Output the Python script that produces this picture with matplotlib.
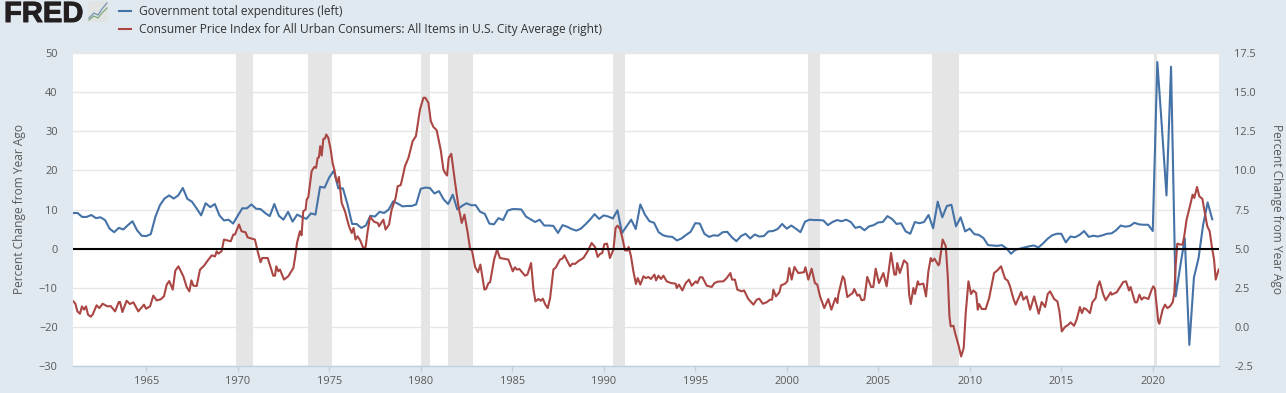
import numpy as np
import matplotlib
matplotlib.use("Agg")
import matplotlib.pyplot as plt
import matplotlib.patheffects as pe
from matplotlib.lines import Line2D
from matplotlib.patches import FancyBboxPatch

# ---------- data ----------
gov_label = "Government total expenditures (left)"
cpi_label = "Consumer Price Index for All Urban Consumers: All Items in U.S. City Average (right)"
y_label = "Percent Change from Year Ago"

# government expenditures, % change, quarterly from 1961 Q1
gov_start = 1961
gov_pct = [
 9.1,9.1,8.1,8.1,8.6,7.8,8.0,7.3,5.1,4.2,5.3,4.9,6.0,7.0,4.7,3.3,3.2,3.7,8.1,11.1,
 12.8,13.6,12.8,13.6,15.5,12.7,12.0,10.3,8.5,11.6,10.6,11.4,8.5,7.2,7.4,6.4,8.4,10.3,10.3,11.3,
 10.2,10.1,9.1,8.3,11.4,8.4,7.4,9.4,6.9,8.7,8.1,7.6,9.0,8.7,15.8,15.6,18.2,19.9,15.4,15.4,
 11.3,6.3,6.3,5.3,5.9,8.4,8.2,9.4,9.1,10.0,12.1,11.5,10.8,10.9,10.9,11.3,15.3,15.6,15.5,14.1,
 14.7,12.6,11.4,13.8,10.0,10.9,11.6,11.1,11.1,9.4,8.9,6.4,6.2,7.8,7.3,9.7,10.1,10.1,10.0,8.2,
 7.5,6.8,7.4,5.9,5.9,5.8,4.0,6.0,5.6,5.0,4.6,5.1,6.2,7.4,8.8,7.6,8.5,8.2,7.7,9.8,
 4.0,5.7,7.4,5.0,11.3,8.7,7.0,6.6,4.2,3.4,3.1,3.0,2.1,2.6,3.5,4.3,6.5,6.4,3.8,3.0,
 3.4,3.3,4.2,4.3,2.9,1.9,3.2,3.8,2.6,3.6,3.1,3.2,4.4,4.5,5.0,6.3,5.1,5.9,5.1,4.2,
 6.9,7.4,7.3,7.3,7.2,6.0,6.8,7.3,7.0,7.4,6.8,5.3,5.6,4.7,5.7,6.0,6.7,6.8,8.3,7.6,
 6.3,6.5,4.4,3.8,6.8,6.5,6.8,8.6,5.2,12.0,8.0,10.9,11.2,5.7,8.0,4.4,5.1,3.7,3.5,2.7,
 0.9,0.8,0.7,0.9,0.1,-1.3,-0.3,0.0,0.3,0.6,0.8,0.3,1.3,2.5,3.4,3.8,3.8,1.6,3.1,2.9,
 3.5,4.5,3.0,3.3,3.1,3.4,3.8,3.9,4.7,5.9,5.6,5.8,6.6,6.2,6.1,6.1,4.5,47.7,31.0,13.6,
 46.5,-12.2,-4.6,2.6,-24.6,-7.4,-2.5,6.0,11.8,7.5]

# consumer price index, % change: dates (decimal years) and values
cpi_year = [
 1961.02,1961.13,1961.24,1961.38,1961.49,1961.60,1961.71,1961.82,1961.97,1962.07,1962.29,1962.44,1962.62,1962.88,
 1963.06,1963.30,1963.50,1963.57,1963.70,1963.93,1964.11,1964.30,1964.57,1964.88,1964.99,1965.21,1965.39,1965.57,
 1965.79,1965.97,1966.12,1966.26,1966.45,1966.59,1966.76,1967.03,1967.21,1967.36,1967.47,1967.58,1967.76,1967.94,
 1968.16,1968.40,1968.58,1968.76,1968.85,1968.94,1969.12,1969.25,1969.43,1969.62,1969.76,1969.85,
 1970.07,1970.21,1970.43,1970.54,1970.94,1971.09,1971.25,1971.34,1971.64,1971.94,1972.04,1972.11,1972.22,1972.31,
 1972.53,1972.76,1973.04,1973.13,1973.24,1973.40,1973.49,1973.58,1973.71,1973.77,1973.86,1974.04,1974.19,1974.28,
 1974.37,1974.44,1974.51,1974.59,1974.68,1974.77,1974.84,1974.95,1975.08,1975.19,1975.28,1975.37,1975.46,1975.53,
 1975.68,1975.86,1976.08,1976.23,1976.33,1976.44,1976.55,1976.70,1976.86,1976.99,1977.10,1977.23,1977.46,1977.65,
 1977.72,1977.96,1978.08,1978.27,1978.41,1978.63,1978.74,1978.90,1978.98,1979.14,1979.33,1979.56,1979.74,1979.96,
 1980.15,1980.25,1980.42,1980.55,1980.69,1980.87,1981.09,1981.24,1981.33,1981.44,1981.53,1981.67,1981.88,1982.06,
 1982.24,1982.39,1982.57,1982.70,1982.80,1982.97,1983.13,1983.26,1983.48,1983.57,1983.70,1983.79,1984.01,1984.17,
 1984.33,1984.79,1985.03,1985.15,1985.25,1985.39,1985.70,1985.83,1986.03,1986.16,1986.27,1986.43,1986.56,1986.67,
 1986.81,1986.94,1987.07,1987.25,1987.39,1987.61,1987.74,1987.85,1988.16,1988.29,1988.43,1988.65,1988.89,1989.12,
 1989.34,1989.52,1989.67,1989.80,1989.92,1990.03,1990.18,1990.34,1990.53,1990.65,1990.76,1990.89,1991.02,1991.16,
 1991.29,1991.36,1991.49,1991.62,1991.76,1991.86,1992.00,1992.17,1992.31,1992.44,1992.58,1992.77,1992.86,1992.99,
 1993.13,1993.26,1993.44,1993.68,1993.93,1993.99,1994.11,1994.30,1994.48,1994.66,1994.81,1995.03,1995.12,1995.26,
 1995.39,1995.63,1995.90,1996.05,1996.23,1996.54,1996.72,1996.92,1997.01,1997.17,1997.30,1997.54,1997.67,1997.90,
 1998.18,1998.36,1998.50,1998.69,1998.90,1999.09,1999.20,1999.27,1999.41,1999.60,1999.69,1999.91,2000.03,2000.14,
 2000.27,2000.42,2000.63,2000.94,2001.02,2001.18,2001.36,2001.54,2001.67,2001.82,2002.05,2002.27,2002.44,2002.66,
 2002.77,2002.82,2003.06,2003.15,2003.31,2003.60,2003.69,2003.86,2003.97,2004.09,2004.24,2004.40,2004.61,2004.73,
 2004.86,2005.04,2005.28,2005.46,2005.70,2005.88,2005.97,2006.04,2006.18,2006.41,2006.59,2006.69,2006.78,2006.92,
 2007.01,2007.16,2007.23,2007.47,2007.61,2007.74,2007.87,2007.96,2008.07,2008.29,2008.34,2008.52,2008.69,2008.80,
 2008.89,2008.96,2009.11,2009.20,2009.38,2009.53,2009.67,2009.78,2009.93,2010.07,2010.20,2010.35,2010.44,2010.51,
 2010.66,2010.87,2011.06,2011.33,2011.51,2011.71,2011.93,2012.08,2012.20,2012.39,2012.51,2012.81,2012.93,2013.11,
 2013.30,2013.52,2013.77,2013.93,2014.12,2014.26,2014.39,2014.61,2014.79,2014.90,2015.03,2015.20,2015.39,2015.51,
 2015.70,2015.84,2016.02,2016.13,2016.24,2016.35,2016.57,2016.70,2016.88,2016.99,2017.10,2017.30,2017.43,2017.70,
 2017.75,2018.03,2018.26,2018.39,2018.54,2018.70,2018.79,2019.03,2019.14,2019.27,2019.39,2019.52,2019.76,2019.94,
 2020.03,2020.12,2020.30,2020.36,2020.54,2020.67,2020.80,2020.94,2021.09,2021.18,2021.25,2021.34,2021.49,2021.63,
 2021.72,2021.85,2022.03,2022.18,2022.27,2022.42,2022.54,2022.71,2022.85,2022.98,2023.11,2023.24,2023.35,2023.44,
 2023.60]
cpi_pct = [
 1.63,1.48,0.99,0.84,1.31,1.10,1.31,0.78,0.65,0.78,1.38,1.20,1.48,1.31,
 1.33,0.99,1.59,1.59,0.95,1.67,1.46,1.57,0.99,1.42,1.16,1.31,2.00,1.69,
 1.76,1.95,2.70,2.93,2.38,3.59,3.87,3.23,2.55,2.27,2.97,2.63,2.61,3.66,
 3.91,4.30,4.57,4.50,4.83,4.68,4.83,5.58,5.53,5.47,5.90,5.90,
 6.54,6.11,6.04,5.72,5.58,4.83,4.13,4.40,4.40,3.27,3.27,3.87,3.55,3.66,
 3.02,3.23,3.76,4.40,5.36,6.11,5.85,7.39,7.49,8.13,8.30,9.95,10.22,10.16,
 10.80,10.84,11.55,10.95,12.01,12.04,12.29,12.08,11.33,10.44,10.05,9.46,9.24,9.58,
 7.92,7.39,6.43,6.00,6.32,5.58,5.79,5.51,5.04,5.11,6.11,7.03,6.71,6.64,
 6.43,6.85,6.22,6.54,7.49,8.24,8.99,9.05,9.41,10.27,10.80,11.87,12.19,13.89,
 14.64,14.64,14.32,13.15,12.78,12.57,11.33,10.05,9.84,9.67,10.80,11.06,9.20,7.71,
 6.64,7.17,6.00,4.94,4.89,3.83,3.49,3.98,2.38,2.42,2.80,2.85,4.30,4.94,
 4.40,4.30,3.55,3.81,3.66,3.70,3.27,3.34,4.08,2.38,1.63,1.78,1.67,1.80,
 1.42,1.20,1.84,3.66,3.81,4.30,4.36,4.57,3.87,4.04,4.02,4.23,4.40,4.83,
 5.36,5.11,4.47,4.66,4.72,5.28,5.32,4.40,4.94,6.32,6.47,6.26,5.68,4.89,
 4.87,5.11,4.51,3.55,2.74,3.12,2.70,3.23,3.12,3.19,3.06,3.34,2.97,3.27,
 3.06,3.27,2.91,2.80,2.76,2.48,2.70,2.33,2.80,3.02,2.63,2.91,2.80,3.17,
 3.17,2.63,2.55,2.80,2.89,2.91,3.12,3.44,3.02,3.02,2.38,2.27,2.33,1.78,
 1.42,1.74,1.80,1.48,1.57,1.74,1.74,2.38,1.95,2.21,2.65,2.76,2.91,3.76,
 3.02,3.83,3.44,3.49,3.81,3.02,3.72,2.80,2.70,1.95,1.20,1.78,1.10,1.84,
 1.52,2.06,3.23,3.06,1.91,2.16,2.42,1.99,2.06,1.70,1.74,3.19,2.55,2.55,
 3.72,2.80,3.44,2.59,4.72,3.34,3.34,4.08,3.44,4.25,4.04,2.06,1.46,2.48,
 2.10,2.91,2.70,2.76,1.95,3.55,4.40,4.19,4.36,3.93,4.04,5.58,5.15,3.23,
 0.67,0.03,0.07,-0.39,-1.14,-1.89,-1.35,0.88,2.91,2.10,2.33,2.16,1.10,1.46,
 1.14,1.14,1.84,3.44,3.61,3.87,3.08,2.95,2.59,1.78,1.42,2.23,1.74,1.95,
 1.10,1.95,0.84,1.59,1.27,2.10,2.27,1.78,1.63,0.99,-0.29,-0.01,0.14,0.29,
 0.07,0.46,1.27,0.88,1.20,1.14,0.88,1.57,1.84,2.59,2.91,2.06,1.70,2.21,
 2.06,2.21,2.63,2.87,2.91,2.33,2.55,1.57,1.57,2.06,1.74,1.89,1.78,2.38,
 2.59,2.42,0.35,0.20,1.10,1.42,1.20,1.31,1.57,2.16,3.87,5.32,5.26,5.26,
 5.79,6.86,7.71,8.45,8.24,8.94,8.35,8.18,7.28,6.43,6.11,5.04,4.30,3.02,
 3.66]

# recession bands, decimal years
recession_start = [1969.92,1973.83,1980.00,1981.50,1990.50,2001.17,2007.92,2020.08]
recession_end   = [1970.83,1975.17,1980.50,1982.83,1991.17,2001.83,2009.42,2020.25]

year_ticks = list(range(1965, 2021, 5))
left_ticks = [-30,-20,-10,0,10,20,30,40,50]
right_ticks = [-2.5,0,2.5,5,7.5,10,12.5,15,17.5]

# ---------- style ----------
plt.rcParams['font.family'] = ['Open Sans', 'DejaVu Sans']
BG = '#E1E9F0'
GRID = '#E6E6E6'
BAND = '#E5E5E5'
TXT = '#595959'
BLUE = '#4572A7'
RED = '#AA4643'
AXIS = '#C0D0E0'
W, H = 1286, 393

fig = plt.figure(figsize=(W/100, H/100), dpi=100, facecolor=BG)
ax = fig.add_axes([73/W, 1-366/H, (1219-73)/W, (366-53)/H])
ax.set_facecolor('white')
ax.set_xlim(1961, 2023.62)
ax.set_ylim(-30, 50)

for s in ('top', 'left', 'right'):
    ax.spines[s].set_visible(False)
ax.spines['bottom'].set_color(AXIS)
ax.spines['bottom'].set_linewidth(1)

ax.set_yticks(left_ticks)
ax.set_xticks(year_ticks)
ax.set_xticklabels([str(y) for y in year_ticks])
ax.grid(axis='y', color=GRID, linewidth=1, zorder=1)
ax.set_axisbelow(True)
ax.tick_params(axis='y', length=0, pad=11, labelsize=7.9, labelcolor=TXT)
ax.tick_params(axis='x', length=4, width=1, color=AXIS, pad=3.5, labelsize=7.9, labelcolor=TXT)
ax.set_ylabel(y_label, fontsize=8.55, color=TXT, labelpad=9)

for a, b in zip(recession_start, recession_end):
    ax.axvspan(a, b, facecolor=BAND, edgecolor='none', zorder=1.5)

gov_years = gov_start + np.arange(len(gov_pct)) / 4
ax.plot(gov_years, gov_pct, color=BLUE, lw=1.5, zorder=3, solid_joinstyle='round')

ax2 = ax.twinx()
ax2.set_position(ax.get_position())
ax2.set_ylim(-2.5, 17.5)
ax2.patch.set_visible(False)
for s in ax2.spines.values():
    s.set_visible(False)
ax2.set_yticks(right_ticks)
ax2.set_yticklabels([f"{v:.1f}" for v in right_ticks])
ax2.tick_params(axis='y', length=0, pad=11, labelsize=7.9, labelcolor=TXT)
ax2.set_ylabel(y_label, fontsize=8.55, color=TXT, rotation=270, labelpad=19.5)
ax2.plot(cpi_year, cpi_pct, color=RED, lw=1.5, zorder=4, solid_joinstyle='round')
ax2.axhline(5, color='black', lw=1.5, zorder=6)

# legend
handles = [Line2D([], [], color=BLUE, lw=1.5), Line2D([], [], color=RED, lw=1.5)]
fig.legend(handles, [gov_label, cpi_label], loc='upper left',
           bbox_to_anchor=(119/W, 1-5/H), bbox_transform=fig.transFigure,
           frameon=False, fontsize=8.65, labelcolor='#333333',
           handlelength=1.0, handletextpad=0.65, labelspacing=0.42,
           borderpad=0, borderaxespad=0)

# FRED logo
fig.text(4/W, 1-22/H, "FRED", fontsize=21, fontweight='bold', color='#231F20',
         family='Liberation Sans', ha='left', va='baseline',
         path_effects=[pe.withStroke(linewidth=0.7, foreground='#231F20')])
fig.add_artist(FancyBboxPatch((88/W, 1-22/H), 20/W, 21/H, boxstyle="round,pad=0,rounding_size=0.002",
                              transform=fig.transFigure, facecolor='#E2E4E4', edgecolor='none'))
fig.add_artist(Line2D(np.array([89,94,98,102,107])/W, 1-np.array([18,13,15,9,3])/H,
                      transform=fig.transFigure, color='#6F94AE', lw=0.9))
fig.add_artist(Line2D(np.array([89,94,98,102,107])/W, 1-np.array([20,16,18,13,8])/H,
                      transform=fig.transFigure, color='#7FA87C', lw=0.9))

fig.savefig('out.png', dpi=100, facecolor=BG)
